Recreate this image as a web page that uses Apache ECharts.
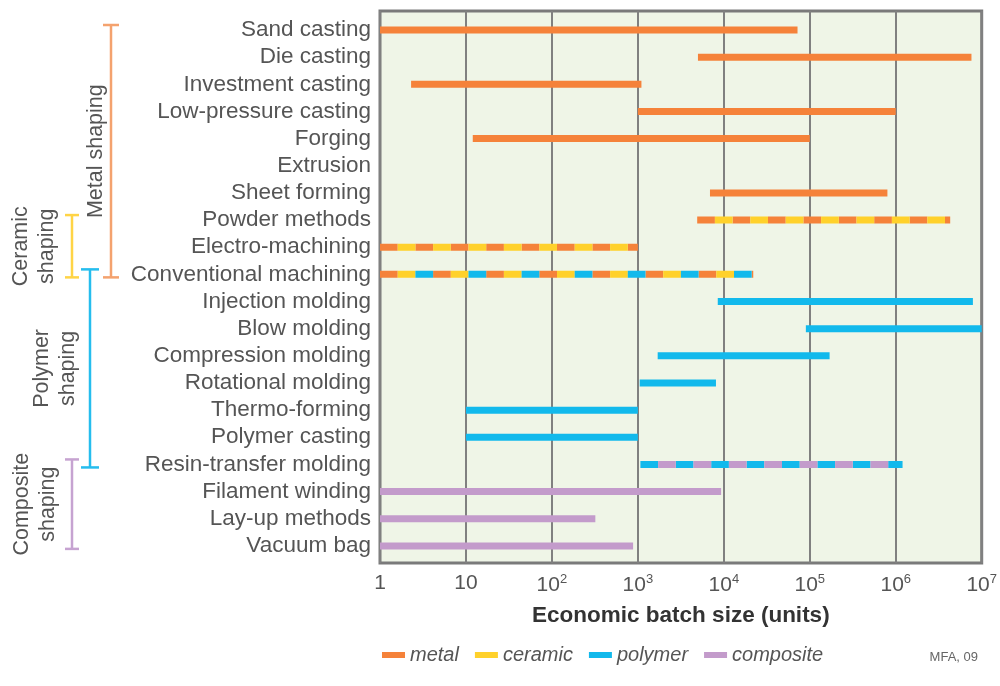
<!DOCTYPE html>
<html>
<head>
<meta charset="utf-8">
<script src="https://cdn.jsdelivr.net/npm/echarts@6/dist/echarts.min.js"></script>
<style>
  html, body { margin: 0; padding: 0; background: #ffffff; }
  #chart { width: 1000px; height: 686px; }
</style>
</head>
<body>
<div id="chart"></div>
<script>
// Shaping processes and their economic batch-size ranges (units)
const categories = [
  'Sand casting', 'Die casting', 'Investment casting', 'Low-pressure casting',
  'Forging', 'Extrusion', 'Sheet forming', 'Powder methods', 'Electro-machining',
  'Conventional machining', 'Injection molding', 'Blow molding',
  'Compression molding', 'Rotational molding', 'Thermo-forming',
  'Polymer casting', 'Resin-transfer molding', 'Filament winding',
  'Lay-up methods', 'Vacuum bag'
];
const batchMin = [1, 5000, 2.3, 1000, 12, null, 6900, 4900, 1, 1,
  8500, 90000, 1700, 1050, 10, 10, 1070, 1, 1, 1];
const batchMax = [72000, 7.6e6, 1100, 1e6, 1e5, null, 8e5, 4.3e6, 1000, 22000,
  7.9e6, 1e7, 1.7e5, 8100, 1000, 1000, 1.2e6, 9300, 320, 880];
// Material classes each process applies to (several -> striped bar)
const rowMaterials = [
  ['metal'], ['metal'], ['metal'], ['metal'], ['metal'], [], ['metal'],
  ['metal', 'ceramic'], ['metal', 'ceramic'], ['metal', 'ceramic', 'polymer'],
  ['polymer'], ['polymer'], ['polymer'], ['polymer'], ['polymer'], ['polymer'],
  ['polymer', 'composite'], ['composite'], ['composite'], ['composite']
];
const materials = ['metal', 'ceramic', 'polymer', 'composite'];
// Process families, bracketing runs of rows
const groupLabels = ['Metal shaping', 'Ceramic\nshaping', 'Polymer\nshaping', 'Composite\nshaping'];
const groupFirstRow = [0, 7, 9, 16];
const groupLastRow = [9, 9, 16, 19];
// Decade ticks on the batch-size axis
const xTickExponents = [0, 1, 2, 3, 4, 5, 6, 7];

const FONT = 'Liberation Sans';
const materialColors = {
  metal: '#F5823A', ceramic: '#FFD12B', polymer: '#12B9EC', composite: '#C39BCB'
};
const bracketStyle = [
  { x: 111, cap: 8, color: '#F4A26E', textX: 96 },
  { x: 72, cap: 7, color: '#FFD446', textX: 34 },
  { x: 90, cap: 9, color: '#25BDEE', textX: 55 },
  { x: 72, cap: 7, color: '#C6A3D1', textX: 35 }
];
const DASH = 17.7;
const BAR_WIDTH = 7;

function materialSeries(mat) {
  const color = materialColors[mat];
  const data = [];
  categories.forEach((c, i) => {
    const mats = rowMaterials[i];
    const k = mats.indexOf(mat);
    if (k >= 0 && batchMin[i] != null) {
      data.push([batchMin[i], batchMax[i], i, k, mats.length]);
    }
  });
  return {
    type: 'custom',
    name: mat,
    data: data,
    itemStyle: { color: color },
    encode: { x: [0, 1], y: 2 },
    clip: false,
    z: 5,
    renderItem: function (params, api) {
      const a = api.coord([api.value(0), api.value(2)]);
      const b = api.coord([api.value(1), api.value(2)]);
      const k = api.value(3), n = api.value(4);
      const style = { stroke: color, lineWidth: BAR_WIDTH, lineCap: 'butt', fill: null };
      if (n > 1) {
        style.lineDash = [DASH, (n - 1) * DASH];
        style.lineDashOffset = ((n - k) % n) * DASH;
      }
      return {
        type: 'line',
        shape: { x1: a[0], y1: a[1], x2: b[0], y2: b[1] },
        style: style,
        silent: true
      };
    }
  };
}

const bracketSeries = {
  type: 'custom',
  name: 'groups',
  clip: false,
  silent: true,
  data: groupLabels.map((g, i) => [1, groupFirstRow[i], groupLastRow[i], i]),
  encode: { x: 0, y: [1, 2] },
  renderItem: function (params, api) {
    const idx = api.value(3);
    const s = bracketStyle[idx];
    const top = api.coord([1, api.value(1)])[1] - 5;
    const bottom = api.coord([1, api.value(2)])[1] + 3;
    const lineStyle = { stroke: s.color, lineWidth: 2.5, fill: null };
    return {
      type: 'group',
      children: [
        { type: 'line', shape: { x1: s.x, y1: top, x2: s.x, y2: bottom }, style: lineStyle },
        { type: 'line', shape: { x1: s.x - s.cap, y1: top, x2: s.x + s.cap, y2: top }, style: lineStyle },
        { type: 'line', shape: { x1: s.x - s.cap, y1: bottom, x2: s.x + s.cap, y2: bottom }, style: lineStyle },
        {
          type: 'text',
          x: s.textX,
          y: (top + bottom) / 2,
          rotation: Math.PI / 2,
          style: {
            text: groupLabels[idx],
            fontFamily: FONT,
            fontSize: 21.5,
            fill: '#555555',
            align: 'center',
            verticalAlign: 'middle',
            lineHeight: 26
          }
        }
      ]
    };
  }
};

const chart = echarts.init(document.getElementById('chart'), null, { renderer: 'canvas' });

chart.setOption({
  animation: false,
  backgroundColor: '#ffffff',
  textStyle: { fontFamily: FONT },
  title: {
    text: 'MFA, 09',
    right: 17,
    top: 646,
    textStyle: { fontFamily: FONT, fontSize: 13, fontWeight: 'normal', color: '#666666' }
  },
  legend: {
    data: materials,
    left: 377,
    top: 640,
    icon: 'rect',
    itemWidth: 23,
    itemHeight: 6,
    itemGap: 16,
    textStyle: { fontFamily: FONT, fontSize: 20, fontStyle: 'italic', color: '#555555' }
  },
  grid: {
    left: 380,
    right: 18,
    top: 11,
    bottom: 123,
    show: true,
    backgroundColor: '#EFF5E7',
    borderColor: '#7a7a7a',
    borderWidth: 3
  },
  xAxis: {
    type: 'log',
    logBase: 10,
    min: 1,
    max: 1e7,
    name: 'Economic batch size (units)',
    nameLocation: 'middle',
    nameGap: 41,
    nameTextStyle: { fontFamily: FONT, fontSize: 22.5, fontWeight: 'bold', color: '#333333' },
    axisLine: { show: false },
    axisTick: { show: false },
    splitLine: { show: true, lineStyle: { color: '#808080', width: 2 } },
    axisLabel: {
      margin: 10,
      color: '#555555',
      fontFamily: FONT,
      fontSize: 21,
      formatter: function (v) {
        const e = Math.round(Math.log10(v));
        if (xTickExponents.indexOf(e) < 0) return '';
        if (e === 0) return '1';
        if (e === 1) return '10';
        return '{b|10}{s|' + e + '}';
      },
      rich: {
        b: { fontFamily: FONT, fontSize: 21, color: '#555555', lineHeight: 24 },
        s: { fontFamily: FONT, fontSize: 13, color: '#555555', verticalAlign: 'top', lineHeight: 24 }
      }
    }
  },
  yAxis: {
    type: 'value',
    inverse: true,
    min: -0.7,
    max: 19.63,
    axisLine: { show: false },
    axisTick: { show: false },
    splitLine: { show: false },
    axisLabel: {
      customValues: categories.map((c, i) => i),
      formatter: function (v) { return categories[Math.round(v)] || ''; },
      margin: 9,
      color: '#555555',
      fontFamily: FONT,
      fontSize: 22.5
    }
  },
  series: materials.map(materialSeries).concat([bracketSeries])
});
</script>
</body>
</html>
